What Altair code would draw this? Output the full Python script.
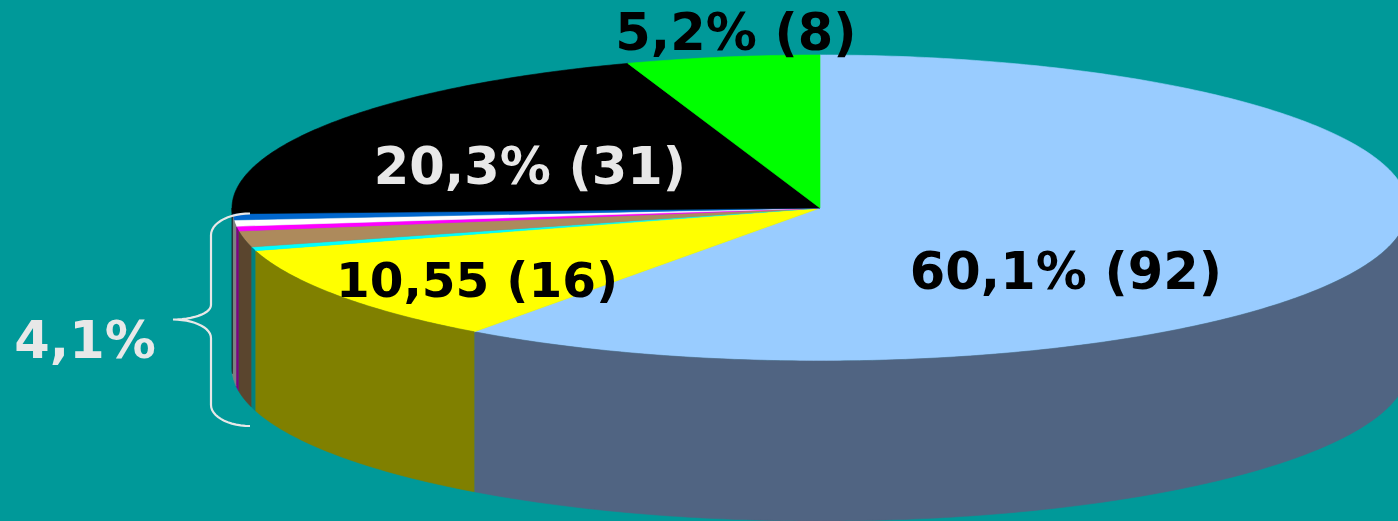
import numpy as np
import pandas as pd
import altair as alt

# Slices clockwise from 12 o'clock (percent of the pie)
names = ["a", "b", "c", "d", "e", "f", "g", "h", "i"]
shares = [60.0, 10.5, 0.4, 1.7, 0.5, 0.65, 0.65, 20.3, 5.3]
top_colors = ["#99ccff", "#ffff00", "#00ffff", "#ad8a5c", "#ff00ff", "#ffffff", "#0066cc", "#000000", "#00ff00"]
side_colors = ["#506482", "#808000", "#008080", "#5a452e", "#800080", "#808080", "#808080", "#000000", "#008000"]

BG = "#009999"
LIGHT = "#e8e8e8"
W, H = 1398, 521
CX, CY, RX, RY, DEPTH = 820, 208, 588, 153, 160


def ux(px):
    return (np.asarray(px, dtype=float) - CX) / RX


def uy(py):
    return (CY - np.asarray(py, dtype=float)) / RY


label_text = ["60,1% (92)", "10,55 (16)", "20,3% (31)", "5,2% (8)", "4,1%"]
label_colors = ["#000000", "#000000", LIGHT, "#000000", LIGHT]
label_px = [1066, 477, 530, 736, 85]
label_py = [274, 282, 169, 35, 343]
label_sizes = [51, 48.5, 51, 51, 51]

depth_u = DEPTH / RY
fractions = np.array(shares) / sum(shares)
edges = np.concatenate([[0], np.cumsum(fractions)]) * 2 * np.pi

rows = []
for i, name in enumerate(names):
    a0, a1 = edges[i], edges[i + 1]
    t = np.linspace(a0, a1, max(3, int((a1 - a0) * 90)))
    xs = np.concatenate([[0], np.sin(t), [0]])
    ys = np.concatenate([[0], np.cos(t), [0]])
    for k, (x, y) in enumerate(zip(xs, ys)):
        rows.append({"key": "top" + name, "x": x, "y": y, "o": k})
    lo, hi = max(a0, np.pi / 2), min(a1, 3 * np.pi / 2)
    if hi > lo:
        t = np.linspace(lo, hi, max(3, int((hi - lo) * 90)))
        xs = np.concatenate([np.sin(t), np.sin(t[::-1])])
        ys = np.concatenate([np.cos(t), np.cos(t[::-1]) - depth_u])
        for k, (x, y) in enumerate(zip(xs, ys)):
            rows.append({"key": "side" + name, "x": x, "y": y, "o": k})
poly = pd.DataFrame(rows)

keys = ["side" + n for n in names] + ["top" + n for n in names]
key_colors = side_colors + top_colors


def arc(x0, y0, x1, y1, start_horizontal, n=14):
    s = np.linspace(0, np.pi / 2, n)
    if start_horizontal:
        return x0 + (x1 - x0) * np.sin(s), y1 + (y0 - y1) * np.cos(s)
    return x1 + (x0 - x1) * np.cos(s), y0 + (y1 - y0) * np.sin(s)


segs = [
    arc(250, 213.5, 211, 235, True),
    arc(211, 305, 173, 319.5, False),
    arc(173, 319.5, 211, 338, True),
    arc(211, 405, 250, 426, False),
]
bx = np.concatenate([s[0] for s in segs])
by = np.concatenate([s[1] for s in segs])
brace = pd.DataFrame({"x": ux(bx), "y": uy(by), "o": np.arange(len(bx))})

labels = pd.DataFrame({"t": label_text, "c": label_colors, "x": ux(label_px), "y": uy(label_py), "s": label_sizes})

xs = alt.Scale(domain=[float(ux(0)), float(ux(W))], range=[0, W], nice=False, zero=False)
ys = alt.Scale(domain=[float(uy(H)), float(uy(0))], range=[H, 0], nice=False, zero=False)
X = alt.X("x:Q", scale=xs, axis=None)
Y = alt.Y("y:Q", scale=ys, axis=None)

pie = alt.Chart(poly).mark_line(filled=True, strokeWidth=0.6, clip=True, interpolate="linear").encode(
    x=X, y=Y, order="o:Q",
    color=alt.Color("key:N", scale=alt.Scale(domain=keys, range=key_colors), legend=None),
    stroke=alt.Stroke("key:N", scale=alt.Scale(domain=keys, range=key_colors), legend=None),
)
brace_line = alt.Chart(brace).mark_line(color=LIGHT, strokeWidth=2.2).encode(x=X, y=Y, order="o:Q")
text = alt.Chart(labels).mark_text(font="DejaVu Sans", fontWeight="bold", align="center", baseline="middle").encode(
    x=X, y=Y, text="t:N", color=alt.Color("c:N", scale=None), size=alt.Size("s:Q", scale=None, legend=None)
)

chart = alt.layer(pie, brace_line, text).properties(
    width=W, height=H, background=BG, padding=0, autosize=alt.AutoSizeParams(type="none")
).configure_view(stroke=None)

chart.save("out.html", embed_options={
    "renderer": "svg", "actions": False,
    "defaultStyle": "html,body{margin:0;padding:0;overflow:hidden;background:#009999}",
})
